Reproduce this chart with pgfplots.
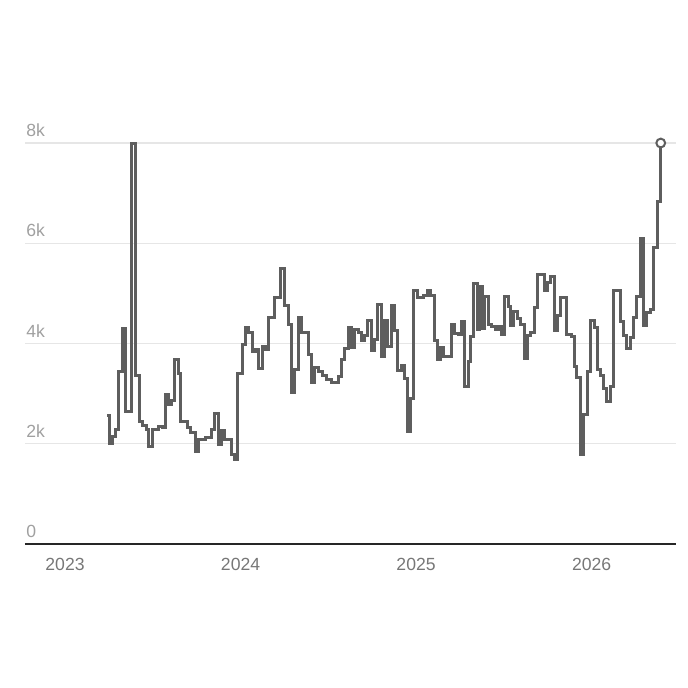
\documentclass[border=0pt]{standalone}
\usepackage{fontspec}
\setmainfont{Liberation Sans}
\usepackage{pgfplots}
\pgfplotsset{compat=1.18}
\definecolor{linegray}{HTML}{5E5E5E}
\definecolor{gridgray}{HTML}{E6E6E6}
\definecolor{ylab}{HTML}{A0A0A0}
\definecolor{xlab}{HTML}{777777}
\begin{document}
\begin{tikzpicture}
\useasboundingbox (-12.5pt,-72pt) rectangle (331.5pt,272pt);
\begin{axis}[
  at={(0,0)}, anchor=south west,
  scale only axis, width=325.5pt, height=200.5pt,
  xmin=2022.772, xmax=2026.481, ymin=0, ymax=8000,
  clip=false,
  axis lines=left,
  y axis line style={draw=none},
  x axis line style={-, line width=0.8pt, color=black!85},
  major tick length=0pt,
  ymajorgrids, grid style={gridgray, line width=0.6pt},
  xtick={2023,2024,2025,2026}, xticklabels={2023,2024,2025,2026},
  ytick={0,2000,4000,6000,8000}, yticklabels={0,2k,4k,6k,8k},
  scaled y ticks=false,
  xticklabel style={font=\fontsize{8.8}{10}\selectfont, color=xlab, yshift=-3.5pt},
  yticklabel style={font=\fontsize{8.8}{10}\selectfont, color=ylab, anchor=south west, inner sep=0pt, xshift=0.5pt, yshift=3pt},
]
\addplot[const plot, no marks, line width=1.5pt, color=linegray, line join=miter] coordinates {
(2023.241,2560) (2023.252,2010) (2023.272,2150) (2023.287,2280) (2023.306,3440)
(2023.325,4300) (2023.346,2650) (2023.380,8000) (2023.403,3360) (2023.427,2450)
(2023.443,2360) (2023.462,2280) (2023.477,1950) (2023.496,2280) (2023.534,2350)
(2023.557,2320) (2023.572,2980) (2023.587,2780) (2023.606,2860) (2023.625,3680)
(2023.648,3410) (2023.659,2450) (2023.697,2330) (2023.716,2230) (2023.742,1850)
(2023.762,2080) (2023.803,2120) (2023.834,2280) (2023.853,2610) (2023.872,1980)
(2023.891,2270) (2023.906,2080) (2023.948,1780) (2023.967,1680) (2023.985,3400)
(2024.009,3990) (2024.027,4310) (2024.047,4210) (2024.066,3850) (2024.088,3880)
(2024.104,3510) (2024.123,3950) (2024.141,3880) (2024.161,4510) (2024.195,4910)
(2024.229,5500) (2024.252,4750) (2024.275,4370) (2024.289,3030) (2024.309,3480)
(2024.332,4510) (2024.350,4210) (2024.385,3780) (2024.403,3230) (2024.423,3530)
(2024.446,3450) (2024.468,3370) (2024.491,3280) (2024.521,3230) (2024.556,3350)
(2024.574,3680) (2024.594,3910) (2024.613,4310) (2024.631,3930) (2024.651,4270)
(2024.670,4210) (2024.688,4050) (2024.708,4150) (2024.726,4450) (2024.745,3870)
(2024.765,4070) (2024.783,4780) (2024.802,3750) (2024.822,4450) (2024.840,3950)
(2024.859,4760) (2024.879,4250) (2024.897,3470) (2024.916,3560) (2024.932,3310)
(2024.950,2250) (2024.970,2910) (2024.985,5050) (2025.007,4910) (2025.042,4960)
(2025.064,5050) (2025.084,4960) (2025.107,4050) (2025.121,3680) (2025.141,3930)
(2025.156,3750) (2025.201,4380) (2025.221,4200) (2025.239,4180) (2025.258,4430)
(2025.277,3150) (2025.296,3650) (2025.312,4130) (2025.330,5190) (2025.349,4280)
(2025.361,5130) (2025.380,4300) (2025.391,4930) (2025.410,4380) (2025.429,4330)
(2025.452,4280) (2025.471,4330) (2025.486,4180) (2025.501,4930) (2025.524,4730)
(2025.540,4350) (2025.554,4630) (2025.577,4500) (2025.597,4380) (2025.615,3710)
(2025.634,4150) (2025.654,4210) (2025.672,4710) (2025.691,5380) (2025.729,5050)
(2025.748,5210) (2025.768,5330) (2025.786,4250) (2025.805,4550) (2025.824,4910)
(2025.859,4180) (2025.885,4140) (2025.900,3550) (2025.916,3330) (2025.934,1780)
(2025.953,2580) (2025.976,3450) (2025.991,4450) (2026.014,4310) (2026.033,3480)
(2026.048,3360) (2026.067,3110) (2026.087,2850) (2026.105,3150) (2026.124,5050)
(2026.166,4430) (2026.181,4160) (2026.201,3910) (2026.223,4110) (2026.238,4510)
(2026.257,4930) (2026.276,6090) (2026.295,4350) (2026.315,4610) (2026.333,4670)
(2026.352,5910) (2026.375,6830) (2026.394,8000)
};
\addplot[only marks, mark=*, mark size=2.2pt, mark options={fill=white, draw=linegray, line width=1pt}] coordinates {(2026.394,8000)};
\end{axis}
\end{tikzpicture}
\end{document}
